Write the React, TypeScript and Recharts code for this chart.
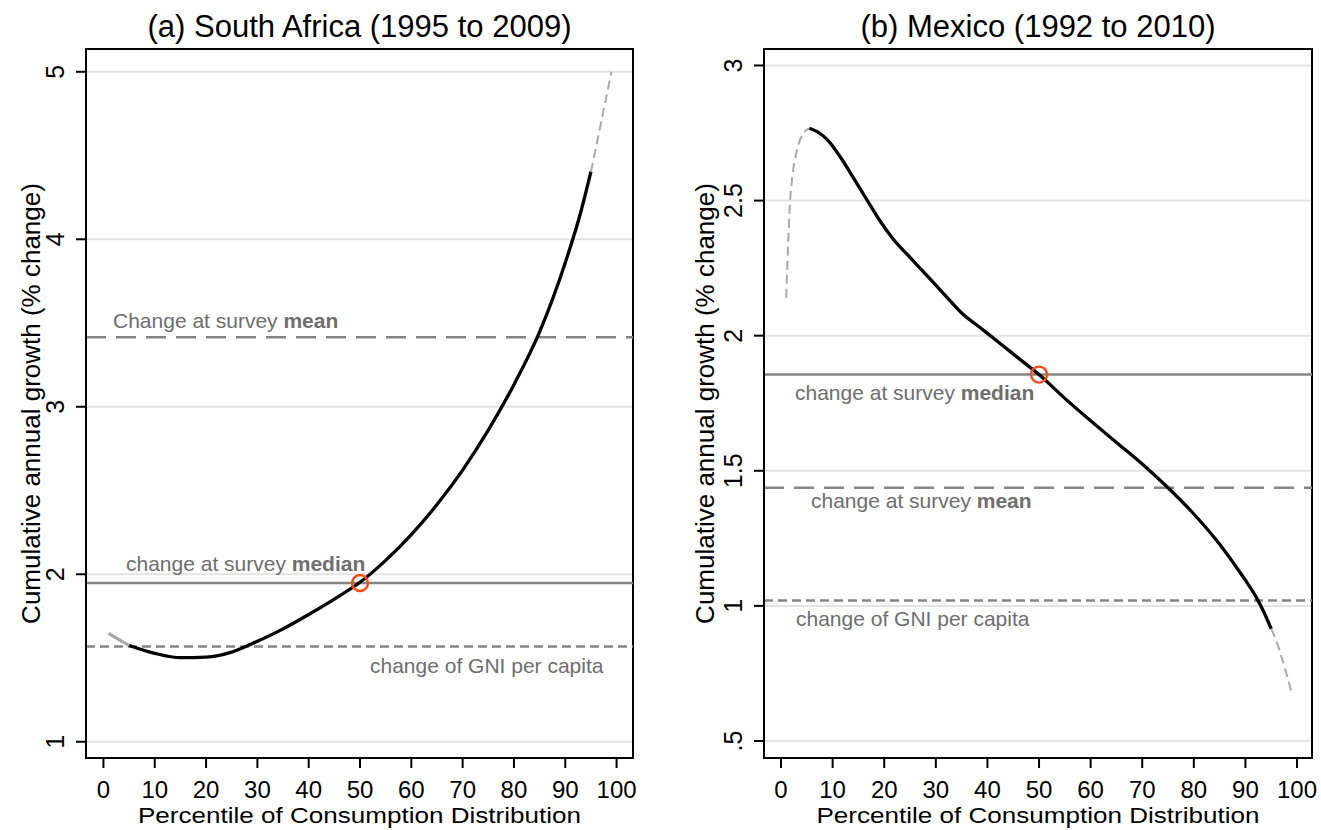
import {
  CartesianGrid,
  Line,
  LineChart,
  ReferenceArea,
  ReferenceDot,
  ReferenceLine,
  XAxis,
  YAxis,
} from "recharts";

// shared axis ticks
const percentileTicks = [0, 10, 20, 30, 40, 50, 60, 70, 80, 90, 100];
const saGrowthTicks = [1, 2, 3, 4, 5];
const mxGrowthTicks = [0.5, 1, 1.5, 2, 2.5, 3];

// (a) South Africa – growth incidence curve
const saHeadPct = [1, 3, 5];
const saHeadVal = [1.647, 1.61, 1.575];
const saBodyPct = [5, 10, 15, 20, 25, 30, 35, 40, 45, 50, 55, 60, 65, 70, 75, 80, 85, 90, 93, 95];
const saBodyVal = [1.575, 1.528, 1.502, 1.505, 1.535, 1.6, 1.674, 1.76, 1.852, 1.952, 2.083, 2.237, 2.416, 2.622, 2.86, 3.132, 3.447, 3.86, 4.16, 4.404];
const saTailPct = [95, 96, 97, 98, 99];
const saTailVal = [4.404, 4.55, 4.7, 4.85, 5.0];
const saMean = 3.415;
const saMedian = 1.948;
const saGni = 1.568;

// (b) Mexico
const mxHeadPct = [1, 1.3, 1.7, 2.2, 3, 4, 5.5];
const mxHeadVal = [2.14, 2.3, 2.48, 2.59, 2.68, 2.738, 2.768];
const mxBodyPct = [5.5, 7, 9, 11.4, 14, 16.6, 19, 21.8, 25, 28.2, 31.5, 35, 38.5, 42.4, 46, 50, 55, 60, 65, 70, 75, 80, 85, 88, 90, 92, 93.5, 95];
const mxBodyVal = [2.768, 2.755, 2.725, 2.664, 2.585, 2.504, 2.43, 2.356, 2.29, 2.224, 2.156, 2.084, 2.031, 1.972, 1.917, 1.856, 1.768, 1.685, 1.605, 1.525, 1.437, 1.34, 1.228, 1.15, 1.095, 1.035, 0.98, 0.915];
const mxTailPct = [95, 96, 97, 98, 99];
const mxTailVal = [0.915, 0.87, 0.81, 0.745, 0.675];
const mxMean = 1.437;
const mxMedian = 1.856;
const mxGni = 1.02;

const rows = (pct: number[], val: number[]) => pct.map((p, i) => ({ p, v: val[i] }));

const font = "'Liberation Sans', Arial, Helvetica, sans-serif";
const noteGrey = "#6e6e6e";
const lineGrey = "#858585";
const tailGrey = "#a9a9a9";

type Note = { text: string; bold: string; dx: number; dy: number };

const noteLabel = (n: Note) => (p: any) => {
  const vb = p.viewBox || { x: 0, y: 0 };
  return (
    <text x={vb.x + n.dx} y={vb.y + n.dy} fontSize={21} fill={noteGrey} fontFamily={font}>
      {n.text}
      <tspan fontWeight="bold">{n.bold}</tspan>
    </text>
  );
};

const titleLabel = (title: string) => (p: any) => {
  const vb = p.viewBox || { x: 0, y: 0, width: 0 };
  return (
    <text x={vb.x + vb.width / 2} y={vb.y - 12} textAnchor="middle" fontSize={31} fill="#000" fontFamily={font}>
      {title}
    </text>
  );
};

// the source figure is a little wider than tall, so the axis title is stretched to its width
const xTitle = (p: any) => {
  const vb = p.viewBox || { x: 0, y: 0, width: 0 };
  return (
    <text
      x={vb.x + vb.width / 2}
      y={vb.y + 65}
      textAnchor="middle"
      fontSize={22}
      textLength={443}
      lengthAdjust="spacingAndGlyphs"
      fill="#000"
      fontFamily={font}
    >
      Percentile of Consumption Distribution
    </text>
  );
};

const yTitle = (dx: number) => (p: any) => {
  const vb = p.viewBox || { x: 0, y: 0, height: 0 };
  const cx = vb.x + dx;
  const cy = vb.y + vb.height / 2;
  return (
    <text x={cx} y={cy} transform={`rotate(-90 ${cx} ${cy})`} textAnchor="middle" dominantBaseline="central" fontSize={26} fill="#000" fontFamily={font}>
      Cumulative annual growth (% change)
    </text>
  );
};

const fmtGrowth = (v: number) => (v === 0.5 ? ".5" : String(v));

const yTick = (p: any) => {
  const cx = p.x - 19;
  return (
    <text x={cx} y={p.y} transform={`rotate(-90 ${cx} ${p.y})`} textAnchor="middle" dominantBaseline="central" fontSize={25} fill="#000" fontFamily={font}>
      {fmtGrowth(p.payload.value)}
    </text>
  );
};

type PanelProps = {
  title: string;
  width: number;
  axisWidth: number;
  rightGap: number;
  titleDx: number;
  xDomain: [number, number];
  yDomain: [number, number];
  yTicks: number[];
  head: { p: number; v: number }[];
  headDashed: boolean;
  body: { p: number; v: number }[];
  tail: { p: number; v: number }[];
  mean: number;
  median: number;
  gni: number;
  meanNote: Note;
  medianNote: Note;
  gniNote: Note;
};

function Panel(props: PanelProps) {
  const { xDomain, yDomain } = props;
  return (
    <LineChart width={props.width} height={830} margin={{ top: 49, right: props.rightGap, bottom: 0, left: 0 }}>
      <CartesianGrid horizontal vertical={false} stroke="#e3e3e3" strokeWidth={2} />
      <XAxis
        type="number"
        dataKey="p"
        domain={xDomain}
        ticks={percentileTicks}
        interval={0}
        allowDataOverflow
        height={72}
        tickSize={10}
        tickMargin={13}
        tick={{ fill: "#000", fontSize: 24, fontFamily: font }}
        axisLine={{ stroke: "#000", strokeWidth: 2 }}
        tickLine={{ stroke: "#000", strokeWidth: 2 }}
        label={xTitle}
      />
      <YAxis
        type="number"
        domain={yDomain}
        ticks={props.yTicks}
        interval={0}
        allowDataOverflow
        width={props.axisWidth}
        tickSize={10}
        tick={yTick}
        axisLine={{ stroke: "#000", strokeWidth: 2 }}
        tickLine={{ stroke: "#000", strokeWidth: 2 }}
        label={yTitle(props.titleDx)}
      />
      <ReferenceArea
        x1={xDomain[0]}
        x2={xDomain[1]}
        y1={yDomain[0]}
        y2={yDomain[1]}
        fill="none"
        fillOpacity={0}
        stroke="#000"
        strokeWidth={2}
        strokeOpacity={1}
        ifOverflow="visible"
        label={titleLabel(props.title)}
      />
      <ReferenceLine y={props.mean} stroke={lineGrey} strokeWidth={2.5} strokeDasharray="20 10" label={noteLabel(props.meanNote)} />
      <ReferenceLine y={props.median} stroke={lineGrey} strokeWidth={2.5} label={noteLabel(props.medianNote)} />
      <ReferenceLine y={props.gni} stroke={lineGrey} strokeWidth={2.5} strokeDasharray="9 5" label={noteLabel(props.gniNote)} />
      <Line
        data={props.head}
        dataKey="v"
        type="monotone"
        stroke={tailGrey}
        strokeWidth={props.headDashed ? 2 : 3.2}
        strokeDasharray={props.headDashed ? "9 5" : undefined}
        dot={false}
        activeDot={false}
        isAnimationActive={false}
      />
      <Line data={props.body} dataKey="v" type="monotone" stroke="#000" strokeWidth={3.3} dot={false} activeDot={false} isAnimationActive={false} />
      <Line data={props.tail} dataKey="v" type="monotone" stroke={tailGrey} strokeWidth={2} strokeDasharray="9 5" dot={false} activeDot={false} isAnimationActive={false} />
      <ReferenceDot x={50} y={props.median} r={8} fill="none" stroke="#ff4a14" strokeWidth={2.4} ifOverflow="visible" />
    </LineChart>
  );
}

export default function App() {
  return (
    <div style={{ position: "absolute", left: 0, top: 0, width: 1321, height: 830, background: "#fff", fontFamily: font }}>
      <div style={{ position: "absolute", left: 0, top: 0 }}>
        <Panel
          title="(a) South Africa (1995 to 2009)"
          width={660}
          axisWidth={86}
          rightGap={27}
          titleDx={31}
          xDomain={[-3.4, 103.2]}
          yDomain={[0.903, 5.136]}
          yTicks={saGrowthTicks}
          head={rows(saHeadPct, saHeadVal)}
          headDashed={false}
          body={rows(saBodyPct, saBodyVal)}
          tail={rows(saTailPct, saTailVal)}
          mean={saMean}
          median={saMedian}
          gni={saGni}
          meanNote={{ text: "Change at survey ", bold: "mean", dx: 27, dy: -9 }}
          medianNote={{ text: "change at survey ", bold: "median", dx: 40, dy: -12 }}
          gniNote={{ text: "change of GNI per capita", bold: "", dx: 284, dy: 26 }}
        />
      </div>
      <div style={{ position: "absolute", left: 660, top: 0 }}>
        <Panel
          title="(b) Mexico (1992 to 2010)"
          width={661}
          axisWidth={104}
          rightGap={9}
          titleDx={45}
          xDomain={[-3.3, 102.9]}
          yDomain={[0.437, 3.061]}
          yTicks={mxGrowthTicks}
          head={rows(mxHeadPct, mxHeadVal)}
          headDashed={true}
          body={rows(mxBodyPct, mxBodyVal)}
          tail={rows(mxTailPct, mxTailVal)}
          mean={mxMean}
          median={mxMedian}
          gni={mxGni}
          meanNote={{ text: "change at survey ", bold: "mean", dx: 47, dy: 20 }}
          medianNote={{ text: "change at survey ", bold: "median", dx: 31, dy: 25 }}
          gniNote={{ text: "change of GNI per capita", bold: "", dx: 32, dy: 26 }}
        />
      </div>
    </div>
  );
}
